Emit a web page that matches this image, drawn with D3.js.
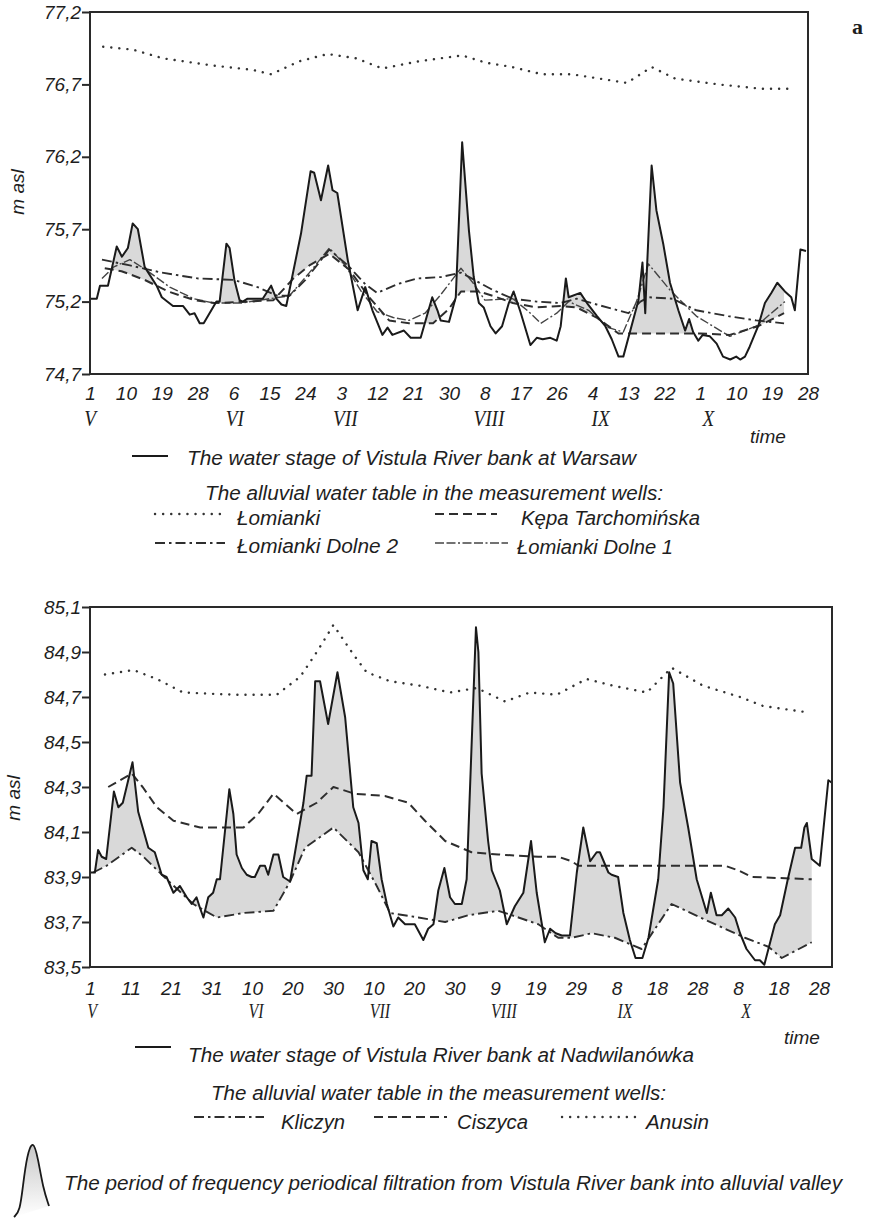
<!DOCTYPE html>
<html>
<head>
<meta charset="utf-8">
<script src="https://cdn.jsdelivr.net/npm/d3@7"></script>
<style>
  body { margin: 0; background: #fff; }
  text { font-family: "Liberation Sans", Arial, sans-serif; font-style: italic; fill: #1e1e1e; }
  .narrow { font-family: "Liberation Sans Narrow", "Liberation Sans", Arial, sans-serif; }
</style>
</head>
<body>
<svg id="chart" width="870" height="1218"></svg>
<script>
// ---- data: [day since 1 May, m asl] ----
const monthLabels = ['V', 'VI', 'VII', 'VIII', 'IX', 'X'];

// top panel (Warsaw)
const topDayTicks = [0, 9, 18, 27, 36, 45, 54, 63, 72, 81, 90, 99, 108, 117, 126, 135, 144, 153, 162, 171, 180];
const topDayLabels = ['1', '10', '19', '28', '6', '15', '24', '3', '12', '21', '30', '8', '17', '26', '4', '13', '22', '1', '10', '19', '28'];
const topMonthDays = [0, 36.3, 64, 100, 128, 155];
const topYTicks = [74.7, 75.2, 75.7, 76.2, 76.7, 77.2];

const warsawStage = [[0,75.22],[1.7,75.22],[2.5,75.31],[4.5,75.31],[6.7,75.58],[8,75.51],[9.5,75.57],[10.7,75.74],[12,75.70],[13.7,75.44],[16.7,75.31],[18,75.23],[20.8,75.17],[23.3,75.17],[25,75.11],[26.2,75.12],[27.5,75.05],[28.5,75.05],[31.7,75.20],[32.5,75.20],[34.2,75.60],[35,75.57],[36.2,75.35],[37.5,75.21],[38.3,75.20],[39.5,75.22],[43.3,75.22],[45.4,75.31],[46.7,75.22],[48,75.18],[49.2,75.17],[52.9,75.67],[55.3,76.10],[56.2,76.09],[57.9,75.90],[59.7,76.14],[60.8,75.97],[62,75.95],[64.6,75.49],[67.1,75.14],[69,75.30],[70.8,75.14],[73.3,74.97],[74.6,75.02],[75.8,74.97],[78.7,75.0],[80.4,74.95],[82.9,74.95],[85.8,75.23],[87.1,75.14],[87.9,75.07],[90,75.06],[91.7,75.23],[93.3,76.30],[95,75.69],[96.2,75.37],[97.5,75.19],[98.7,75.16],[100.4,75.03],[101.7,74.98],[103.3,75.03],[105,75.19],[106.2,75.27],[107.9,75.13],[110.4,74.90],[112,74.95],[113.5,74.94],[115.4,74.95],[117,74.93],[118,75.03],[119.3,75.36],[120,75.23],[122.9,75.26],[124.6,75.19],[127.1,75.10],[129.2,75.03],[130.8,74.94],[132.5,74.82],[133.7,74.82],[137.5,75.21],[138.5,75.47],[139.2,75.12],[139.5,75.35],[140.8,76.14],[142,75.83],[143.7,75.60],[145.4,75.33],[147.5,75.14],[149.2,75.0],[150.2,75.08],[151.2,74.99],[152.5,74.93],[153.6,74.97],[155.4,74.96],[157.1,74.91],[158.7,74.82],[160.5,74.80],[162,74.82],[163,74.80],[164.2,74.82],[165.4,74.89],[167.5,75.03],[169.2,75.19],[170.8,75.26],[172.3,75.33],[174.2,75.27],[175.8,75.23],[176.7,75.14],[178.1,75.56],[179.5,75.55]];

const lomianki = [[3.3,76.96],[10.8,76.94],[18.3,76.88],[30.8,76.83],[40.8,76.80],[45.4,76.77],[52.5,76.86],[59.6,76.91],[66.7,76.88],[73.3,76.81],[82.5,76.86],[93.3,76.90],[99.2,76.85],[105.8,76.82],[113.3,76.77],[120.8,76.77],[134.6,76.71],[140.8,76.82],[146.7,76.74],[157.5,76.70],[168.3,76.67],[175,76.67]];

const kepaTarchominska = [[3.7,75.43],[7.9,75.41],[13.7,75.35],[19.6,75.27],[26.2,75.21],[31.2,75.19],[40,75.20],[46,75.21],[51,75.36],[55,75.45],[60,75.53],[65,75.42],[70,75.23],[75,75.07],[80,75.05],[86,75.05],[90,75.15],[93,75.27],[97.5,75.27],[101,75.24],[106,75.19],[112,75.16],[118,75.17],[122,75.16],[127,75.09],[132.5,74.98],[146,74.98],[153,74.98],[160.4,74.97],[167.5,75.03],[174,75.12]];

const lomiankiDolne2 = [[3,75.49],[10,75.45],[18,75.40],[27,75.36],[36,75.35],[42,75.30],[47,75.24],[50,75.24],[54,75.35],[60,75.56],[65,75.44],[69,75.32],[72,75.26],[77,75.32],[82,75.36],[88,75.37],[93,75.40],[97,75.34],[101,75.28],[106,75.22],[112,75.20],[118,75.19],[122,75.22],[127,75.18],[131,75.15],[135,75.12],[138,75.20],[140,75.23],[146,75.22],[152,75.14],[160,75.10],[167,75.07],[174,75.05]];

const lomiankiDolne1 = [[3,75.36],[6,75.44],[10,75.49],[14,75.42],[20,75.30],[26,75.22],[31,75.19],[38,75.19],[45,75.22],[50,75.24],[55,75.40],[60,75.57],[64,75.45],[68,75.27],[72,75.13],[76,75.09],[80,75.07],[84,75.12],[88,75.25],[93,75.43],[96,75.33],[99,75.21],[106,75.22],[110,75.13],[113,75.05],[117,75.12],[120,75.20],[125,75.14],[130,75.02],[133.7,74.99],[137,75.20],[140,75.46],[145.4,75.28],[152,75.10],[160.4,74.96],[167,75.03],[174.2,75.20]];

// bottom panel (Nadwilanówka)
const bottomDayTicks = [0, 10, 20, 30, 40, 50, 60, 70, 80, 90, 100, 110, 120, 130, 140, 150, 160, 170, 180];
const bottomDayLabels = ['1', '11', '21', '31', '10', '20', '30', '10', '20', '30', '9', '19', '29', '8', '18', '28', '8', '18', '28'];
const bottomMonthDays = [0.5, 41, 71.6, 102.2, 132.1, 162];
const bottomYTicks = [83.5, 83.7, 83.9, 84.1, 84.3, 84.5, 84.7, 84.9, 85.1];

const nadwilanowkaStage = [[0,83.92],[1.2,83.92],[2,84.02],[2.9,83.99],[4,83.98],[5.9,84.28],[7,84.21],[8.1,84.23],[10.5,84.41],[11.9,84.19],[14.4,84.03],[16,84.01],[17.7,83.91],[18.9,83.90],[20.6,83.83],[22.2,83.86],[23.9,83.81],[25.1,83.78],[26.3,83.81],[27.2,83.76],[28,83.72],[29.2,83.81],[30.4,83.83],[31.3,83.89],[32.1,83.89],[34.4,84.29],[35.4,84.18],[36.2,84.00],[37.5,83.94],[38.7,83.91],[39.9,83.90],[40.7,83.90],[42,83.95],[43.2,83.95],[44,83.91],[45.3,84.00],[46.5,84.00],[47.7,83.90],[49.4,83.88],[52.7,84.23],[53.5,84.35],[54.7,84.35],[55.6,84.77],[56.8,84.77],[58.8,84.58],[61.1,84.81],[63,84.61],[65,84.21],[66.3,84.14],[67.5,83.93],[68.6,83.89],[69.5,84.06],[70.8,84.05],[72,83.89],[73.3,83.78],[74.9,83.68],[76.1,83.72],[77.8,83.69],[80.2,83.69],[82.3,83.62],[83.5,83.67],[84.8,83.69],[86,83.84],[87.5,83.94],[88.9,83.81],[90.1,83.78],[91.8,83.78],[93,83.89],[95.3,85.01],[95.9,84.90],[96.7,84.36],[98.3,84.06],[99.2,83.93],[101.2,83.84],[102.9,83.69],[104.9,83.77],[107,83.83],[108.9,84.06],[110.3,83.83],[112.3,83.61],[113.6,83.67],[115,83.65],[116.5,83.64],[118.5,83.64],[120.2,83.92],[121.8,84.12],[123.5,83.97],[125.1,84.01],[125.9,84.01],[128,83.92],[128.8,83.91],[130.4,83.90],[131.7,83.74],[133.3,83.62],[134.7,83.54],[136.4,83.54],[137.9,83.63],[140.3,83.89],[141.6,84.21],[143,84.81],[144,84.76],[145.7,84.32],[147.7,84.12],[149.8,83.89],[152.3,83.74],[153.3,83.83],[154.7,83.73],[156,83.73],[157.6,83.76],[159.3,83.72],[160.5,83.65],[162.1,83.58],[164.2,83.53],[165.4,83.53],[166.5,83.51],[169.1,83.69],[170.4,83.73],[172.3,83.89],[174.1,84.03],[175.6,84.03],[176.4,84.12],[177,84.14],[178.2,83.98],[180.2,83.95],[182.3,84.33],[183.1,84.32]];

const anusin = [[3.7,84.80],[10.7,84.82],[16.5,84.78],[23,84.72],[35.4,84.71],[46.1,84.71],[51.9,84.79],[56,84.90],[60.1,85.02],[65,84.89],[68.3,84.81],[74.1,84.77],[81.5,84.75],[88.9,84.72],[95.5,84.74],[102.5,84.68],[108.6,84.72],[115.2,84.71],[122.6,84.78],[129.2,84.75],[137.5,84.72],[143.6,84.83],[151.4,84.75],[160.5,84.70],[166.2,84.66],[177.8,84.63]];

const ciszyca = [[4.5,84.30],[10.3,84.36],[13,84.30],[16.5,84.21],[20.6,84.15],[27.2,84.12],[34.6,84.12],[37.9,84.12],[41.5,84.18],[45.3,84.27],[51,84.18],[56,84.23],[60.1,84.30],[65.4,84.27],[72.8,84.26],[78.6,84.23],[82.7,84.15],[87.7,84.06],[94.2,84.01],[100.8,84.00],[110.7,83.99],[115.6,83.99],[118.9,83.97],[120.6,83.95],[142,83.95],[156.8,83.95],[160,83.93],[163.4,83.90],[178.2,83.89]];

const kliczyn = [[0.8,83.92],[4.1,83.95],[10.3,84.03],[13.2,83.99],[18.9,83.89],[25.5,83.78],[31.3,83.72],[37.9,83.74],[45.3,83.75],[49.4,83.88],[53.1,84.03],[60.1,84.12],[66.3,84.01],[70.8,83.86],[74.1,83.74],[81.1,83.72],[87.7,83.70],[93.4,83.73],[100.8,83.75],[105.8,83.72],[110.7,83.69],[115.6,83.63],[118.9,83.63],[123.9,83.65],[129.6,83.63],[136.2,83.58],[143.6,83.78],[151.9,83.71],[161.7,83.63],[167.5,83.59],[170.8,83.54],[178.2,83.61]];

// ---- styles ----
const styles = {
  stage:    { dash: null,            width: 2.0, color: '#1a1a1a', cap: 'butt' },
  dotted:   { dash: '0.1,8',         width: 2.4, color: '#333',    cap: 'round' },
  dashed:   { dash: '9,5',           width: 2.0, color: '#2e2e2e', cap: 'butt' },
  dashdot:  { dash: '10,4,2.5,4',    width: 1.9, color: '#2e2e2e', cap: 'butt' },
  longdash: { dash: '9,2.5,9,2.5,2,2.5', width: 1.4, color: '#444', cap: 'butt' }
};
const fillGray = '#d9d9d9';
const comma = d => d3.format('.1f')(d).replace('.', ',');

const svg = d3.select('#chart');

function styled(sel, s) {
  return sel.attr('fill', 'none')
    .attr('stroke', s.color)
    .attr('stroke-width', s.width)
    .attr('stroke-dasharray', s.dash)
    .attr('stroke-linecap', s.cap)
    .attr('stroke-linejoin', 'round');
}

function panel(cfg) {
  const x = d3.scaleLinear().domain([0, 180]).range([cfg.left, cfg.x180]);
  const y = d3.scaleLinear().domain([cfg.yTicks[0], cfg.yTicks[cfg.yTicks.length - 1]]).range([cfg.bottom, cfg.top]);
  const g = svg.append('g');
  const line = d3.line().x(d => x(d[0])).y(d => y(d[1]));

  // clip = region above the reference well line
  g.append('clipPath').attr('id', cfg.id + '-clip')
    .append('path')
    .attr('d', d3.area().x(d => x(d[0])).y0(cfg.top).y1(d => y(d[1]))(cfg.fillRef));

  // filtration period: stage above the well line
  g.append('path')
    .attr('d', d3.area().x(d => x(d[0])).y0(cfg.bottom).y1(d => y(d[1]))(cfg.stage))
    .attr('fill', fillGray)
    .attr('clip-path', `url(#${cfg.id}-clip)`);

  cfg.wells.forEach(w => {
    g.append('path').attr('d', line(w.data)).call(styled, styles[w.style]);
  });
  g.append('path').attr('d', line(cfg.stage)).call(styled, styles.stage);

  // frame
  g.append('rect')
    .attr('x', cfg.left).attr('y', cfg.top)
    .attr('width', cfg.right - cfg.left).attr('height', cfg.bottom - cfg.top)
    .attr('fill', 'none').attr('stroke', '#2a2a2a').attr('stroke-width', 2);

  const ya = g.append('g')
    .attr('transform', `translate(${cfg.left},0)`)
    .call(d3.axisLeft(y).tickValues(cfg.yTicks).tickFormat(comma).tickSize(8).tickPadding(1));
  ya.select('.domain').remove();
  ya.attr('font-size', 19).attr('color', '#2a2a2a');
  ya.selectAll('line').attr('stroke-width', 2);

  const xa = g.append('g')
    .attr('transform', `translate(0,${cfg.bottom})`)
    .call(d3.axisBottom(x).tickValues(cfg.dayTicks).tickFormat((d, i) => cfg.dayLabels[i]).tickSize(0).tickPadding(cfg.xPad));
  xa.select('.domain').remove();
  xa.attr('font-size', 19);

  g.selectAll('.month').data(monthLabels).join('text')
    .attr('class', 'month')
    .attr('transform', (d, i) => `translate(${x(cfg.monthDays[i])},${cfg.monthY}) scale(0.8,1)`)
    .attr('text-anchor', 'middle')
    .style('font-family', '"Liberation Serif", "Times New Roman", serif')
    .style('font-size', cfg.monthSize + 'px')
    .text(d => d);

  g.append('text').attr('class', 'narrow').attr('x', cfg.timeX).attr('y', cfg.timeY)
    .attr('text-anchor', 'middle').style('font-size', '19px').text('time');

  g.append('text').attr('class', 'narrow')
    .attr('transform', `translate(${cfg.labelX},${cfg.labelY}) rotate(-90)`)
    .attr('text-anchor', 'middle').style('font-size', '19px').text('m asl');
}

panel({
  id: 'top', left: 90, right: 808, x180: 808, top: 12, bottom: 374,
  yTicks: topYTicks, dayTicks: topDayTicks, dayLabels: topDayLabels,
  monthDays: topMonthDays, monthY: 426, monthSize: 24, xPad: 13,
  timeX: 768, timeY: 443, labelX: 24, labelY: 192,
  stage: warsawStage, fillRef: kepaTarchominska,
  wells: [
    { data: lomianki, style: 'dotted' },
    { data: lomiankiDolne1, style: 'longdash' },
    { data: kepaTarchominska, style: 'dashed' },
    { data: lomiankiDolne2, style: 'dashdot' }
  ]
});

panel({
  id: 'bottom', left: 90, right: 832, x180: 819, top: 607, bottom: 967,
  yTicks: bottomYTicks, dayTicks: bottomDayTicks, dayLabels: bottomDayLabels,
  monthDays: bottomMonthDays, monthY: 1018, monthSize: 20, xPad: 15,
  timeX: 802, timeY: 1044, labelX: 20, labelY: 798,
  stage: nadwilanowkaStage, fillRef: kliczyn,
  wells: [
    { data: anusin, style: 'dotted' },
    { data: ciszyca, style: 'dashed' },
    { data: kliczyn, style: 'dashdot' }
  ]
});

// ---- legends ----
function legendText(str, x, yb, width, size) {
  svg.append('text').attr('class', 'narrow').attr('x', x).attr('y', yb)
    .attr('textLength', width).attr('lengthAdjust', 'spacingAndGlyphs')
    .style('font-size', size + 'px').text(str);
}
function legendLine(style, x1, x2, yy) {
  svg.append('line').attr('x1', x1).attr('x2', x2).attr('y1', yy).attr('y2', yy)
    .call(styled, styles[style]);
}

legendLine('stage', 132, 168, 456);
legendText('The water stage of Vistula River bank at Warsaw', 187, 465, 449, 20);
legendText('The alluvial water table in the measurement wells:', 205, 500, 458, 20);
legendLine('dotted', 155, 225, 514);
legendText('Łomianki', 237, 525, 83, 20);
legendLine('dashed', 435, 497, 514);
legendText('Kępa Tarchomińska', 521, 525, 179, 20);
legendLine('dashdot', 155, 225, 543);
legendText('Łomianki Dolne 2', 237, 553, 161, 20);
legendLine('longdash', 435, 508, 543);
legendText('Łomianki Dolne 1', 517, 554, 156, 20);

legendLine('stage', 135, 171, 1047);
legendText('The water stage of Vistula River bank at Nadwilanówka', 188, 1062, 506, 20);
legendText('The alluvial water table in the measurement wells:', 211, 1100, 455, 20);
legendLine('dashdot', 194, 264, 1117);
legendText('Kliczyn', 281, 1129, 64, 20);
legendLine('dashed', 374, 447, 1117);
legendText('Ciszyca', 457, 1129, 71, 20);
legendLine('dotted', 562, 635, 1117);
legendText('Anusin', 646, 1129, 63, 20);

// filtration glyph
const grad = svg.append('defs').append('linearGradient').attr('id', 'peakFill')
  .attr('x1', 0).attr('y1', 0).attr('x2', 0).attr('y2', 1);
grad.append('stop').attr('offset', 0).attr('stop-color', '#c8c8c8');
grad.append('stop').attr('offset', 1).attr('stop-color', '#ffffff');
const peak = [[14, 1217], [20, 1211], [23, 1185], [27, 1155], [33, 1139], [38, 1158], [43, 1188], [49, 1206]];
svg.append('path')
  .attr('d', d3.line().curve(d3.curveBasis)(peak))
  .attr('fill', 'url(#peakFill)').attr('stroke', '#1a1a1a').attr('stroke-width', 1.8);
legendText('The period of frequency periodical filtration from Vistula River bank into alluvial valley', 64, 1190, 778, 20);

svg.append('text').attr('x', 852).attr('y', 34)
  .style('font-family', '"Liberation Serif", serif').style('font-style', 'normal')
  .style('font-weight', 'bold').style('font-size', '22px').text('a');
</script>
</body>
</html>
